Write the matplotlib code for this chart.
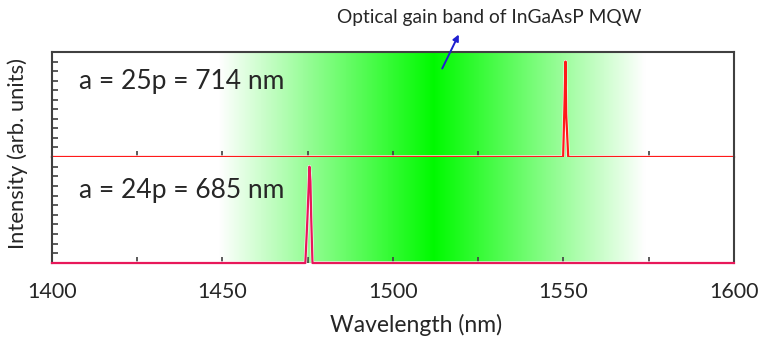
import matplotlib.pyplot as plt
from matplotlib.patches import FancyArrowPatch
import numpy as np

# spectra (wavelength in nm, normalized intensity)
wl_top = [1400, 1549.9, 1550.3, 1550.6, 1550.8, 1551.0, 1551.4, 1600]
int_top = [0.0, 0.0, 0.55, 1.0, 0.45, 0.3, 0.0, 0.0]
wl_bot = [1400, 1474.3, 1474.9, 1475.5, 1475.8, 1476.0, 1476.4, 1600]
int_bot = [0.0, 0.0, 0.45, 1.0, 0.85, 0.5, 0.0, 0.0]

labels = ["a = 25p = 714 nm", "a = 24p = 685 nm"]
label_y = [0.712, 0.677]
line_colors = ["#ff1a1a", "#e8185a"]

# gain band: white -> green -> white
band_wl = [1449, 1512, 1574]
band_level = [0.0, 1.0, 0.0]

xticks = np.arange(1400, 1601, 25)
xticklabels = ["1400", "", "1450", "", "1500", "", "1550", "", "1600"]

plt.rcParams['font.family'] = ['Lato', 'DejaVu Sans']
text_c = "#262626"
spine_c = "#404040"

fig = plt.figure(figsize=(7.62, 3.41), dpi=100)
ax_top = fig.add_axes([0.0682, 0.5396, 0.8950, 0.3079])
ax_bot = fig.add_axes([0.0682, 0.2287, 0.8950, 0.3109])

grid = np.linspace(1400, 1600, 800)
lev = np.interp(grid, band_wl, band_level)
green = np.array([0.0, 0.98, 0.0])
rgb = (1 - lev)[:, None] * np.ones(3) + lev[:, None] * green
img = np.repeat(rgb[None, :, :], 2, axis=0)

for ax, wl, inten, lab, ly, col in zip([ax_top, ax_bot], [wl_top, wl_bot],
                                       [int_top, int_bot], labels, label_y,
                                       line_colors):
    ax.imshow(img, extent=[1400, 1600, 0, 1.1], aspect="auto", zorder=0,
              interpolation="bilinear")
    ax.plot(wl, inten, c="white", lw=2.4, zorder=2, clip_on=False)
    ax.plot(wl, inten, c=col, lw=1.6, zorder=3, clip_on=False)
    ax.set_xlim(1400, 1600)
    ax.set_ylim(0, 1.1)
    ax.set_xticks(xticks)
    ax.set_yticks(np.arange(0.1, 1.05, 0.1))
    ax.set_yticklabels([])
    ax.tick_params(direction="in", length=4, width=1.2, color=spine_c)
    ax.text(1408, ly, lab, fontsize=19, color=text_c, va="baseline")
    for sp in ax.spines.values():
        sp.set_color(spine_c)
        sp.set_linewidth(1.5)
    ax.spines["bottom"].set_visible(False)

ax_top.set_xticklabels([])
ax_bot.spines["top"].set_visible(False)
ax_bot.set_xticklabels(xticklabels, fontsize=15.5, color=text_c)
ax_bot.tick_params(axis="x", pad=14)

fig.text(416.5 / 762, 1 - 325 / 341, "Wavelength (nm)", fontsize=16.5,
         color=text_c, ha="center", va="center")
fig.text(18 / 762, 1 - 153.5 / 341, "Intensity (arb. units)", rotation=90,
         fontsize=15.8, color=text_c, ha="center", va="center")

fig.text(489 / 762, 1 - 18 / 341, "Optical gain band of InGaAsP MQW",
         fontsize=13.8, color=text_c, ha="center", va="center")
fig.add_artist(FancyArrowPatch(
    (441 / 762, 1 - 71 / 341), (460 / 762, 1 - 32 / 341),
    transform=fig.transFigure, arrowstyle="-|>", mutation_scale=9,
    color="#1f1fd0", lw=1.4))

fig.savefig("out.png", dpi=100)
